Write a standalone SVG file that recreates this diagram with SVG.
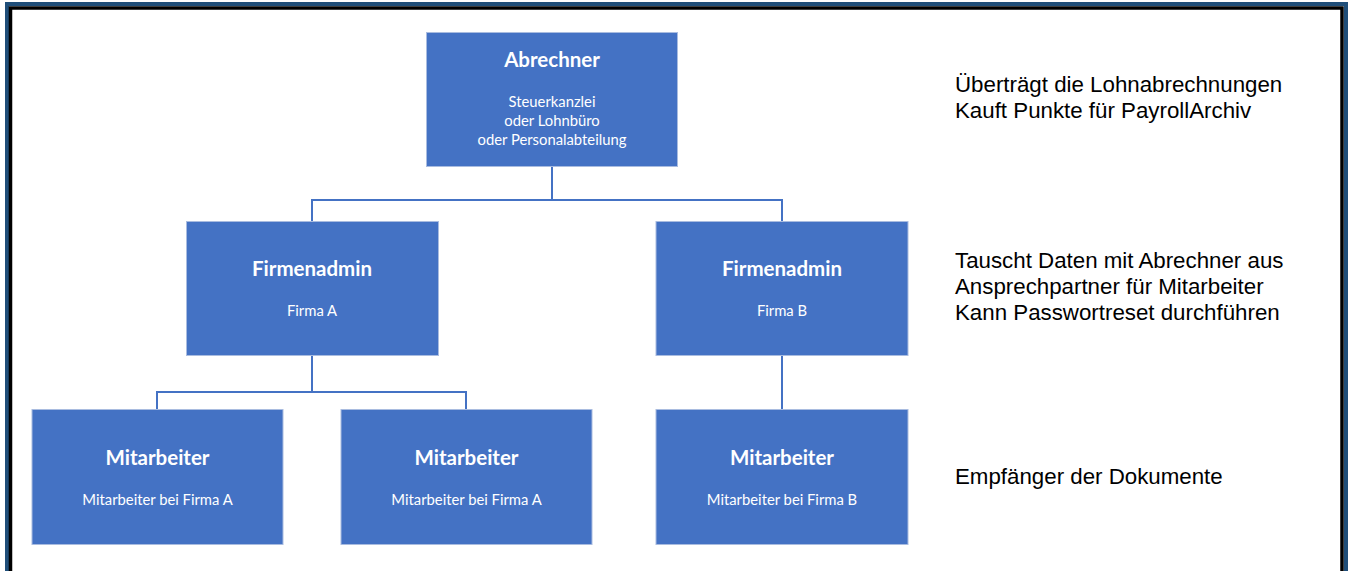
<svg xmlns="http://www.w3.org/2000/svg" width="1352" height="571" viewBox="0 0 1352 571">
<style>
.box{fill:#4472C4;stroke:#A9BCE0;stroke-width:1}
.t{font-family:Lato,"Open Sans",sans-serif;font-weight:bold;font-size:20.5px;fill:#FFFFFF;text-anchor:middle}
.s{font-family:Lato,"Open Sans",sans-serif;font-size:14.8px;fill:#FFFFFF;text-anchor:middle}
.c{fill:none;stroke:#4472C4;stroke-width:2}
.r{font-family:"Liberation Sans",Arial,sans-serif;font-size:22.3px;fill:#000000}
</style>
<rect width="1352" height="571" fill="#FFFFFF"/>
<g id="frame" fill="none">
<path d="M7,571 V4 H1346 V571" stroke="#1F4E79" stroke-width="4"/>
<path d="M10.5,571 V8 H1342 V571" stroke="#000000" stroke-width="3.5"/>
</g>
<g id="connectors">
<path class="c" d="M552,166 V200 M312,221 V200 H782 V221"/>
<path class="c" d="M312,355 V392 M157,410 V392 H466 V410"/>
<path class="c" d="M782,355 V410"/>
</g>
<g id="abrechner">
<rect class="box" x="426.5" y="32.5" width="251" height="134"/>
<text class="t" x="552" y="67">Abrechner</text>
<text class="s" x="552" y="107">Steuerkanzlei</text>
<text class="s" x="552" y="126">oder Lohnbüro</text>
<text class="s" x="552" y="145">oder Personalabteilung</text>
</g>
<g id="firmenadmin-a">
<rect class="box" x="186.5" y="221.5" width="252" height="134"/>
<text class="t" x="312" y="276">Firmenadmin</text>
<text class="s" x="312" y="316">Firma A</text>
</g>
<g id="firmenadmin-b">
<rect class="box" x="656" y="221.5" width="252" height="134"/>
<text class="t" x="782" y="276">Firmenadmin</text>
<text class="s" x="782" y="316">Firma B</text>
</g>
<g id="mitarbeiter-a1">
<rect class="box" x="32" y="409.5" width="251" height="135"/>
<text class="t" x="157.5" y="465">Mitarbeiter</text>
<text class="s" x="157.5" y="505">Mitarbeiter bei Firma A</text>
</g>
<g id="mitarbeiter-a2">
<rect class="box" x="341" y="409.5" width="251" height="135"/>
<text class="t" x="466.5" y="465">Mitarbeiter</text>
<text class="s" x="466.5" y="505">Mitarbeiter bei Firma A</text>
</g>
<g id="mitarbeiter-b">
<rect class="box" x="656" y="409.5" width="252" height="135"/>
<text class="t" x="782" y="465">Mitarbeiter</text>
<text class="s" x="782" y="505">Mitarbeiter bei Firma B</text>
</g>
<g id="notes">
<text class="r" x="955" y="92">Überträgt die Lohnabrechnungen</text>
<text class="r" x="955" y="118">Kauft Punkte für PayrollArchiv</text>
<text class="r" x="955" y="268">Tauscht Daten mit Abrechner aus</text>
<text class="r" x="955" y="294">Ansprechpartner für Mitarbeiter</text>
<text class="r" x="955" y="320">Kann Passwortreset durchführen</text>
<text class="r" x="955" y="484">Empfänger der Dokumente</text>
</g>
</svg>
